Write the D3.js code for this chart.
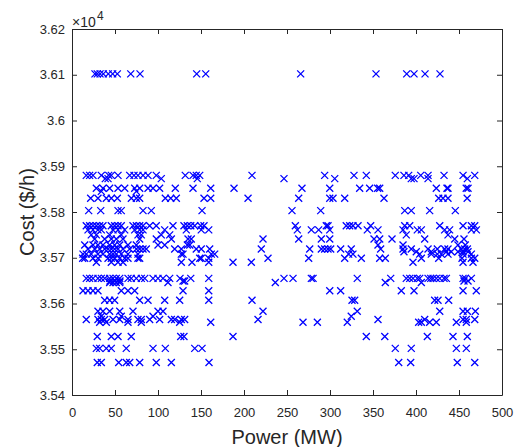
<!DOCTYPE html>
<html>
<head>
<meta charset="utf-8">
<script src="https://cdn.jsdelivr.net/npm/d3@7/dist/d3.min.js"></script>
<style>
    body { margin: 0; background: #fff; }
    text { font-family: "Liberation Sans", Arial, Helvetica, sans-serif; }
</style>
</head>
<body>
<div id="chart-area"></div>
<script>
// Tick values
var xTicks = [0, 50, 100, 150, 200, 250, 300, 350, 400, 450, 500];
var yTicks = [35400, 35500, 35600, 35700, 35800, 35900, 36000, 36100, 36200];

// Cost levels ($/h) and the power values (MW) found at each level
var costLevels = [36102, 35880, 35873, 35852, 35845, 35830, 35803, 35770, 35761, 35750,
    35741, 35728, 35719, 35713, 35708, 35699, 35690, 35655, 35649, 35646, 35628,
    35607, 35583, 35572, 35565, 35559, 35528, 35502, 35471];

var p36102 = [26.7, 29.4, 32.6, 36.4, 42.2, 47.3, 52.7, 68.3, 79.1, 145, 155.5, 265.9, 353.5, 389.2, 397.7, 410.5, 427.9];
var p35880 = [16.6, 20.5, 24.4, 34.1, 42.7, 45.7, 53.5, 67.1, 72.1, 76.7, 82.6, 88.4, 98, 131.7, 140.7, 144.5, 148.5, 209.3, 293.8, 327.9, 342.2, 375.9, 386, 391.5, 405.5, 414, 432.6, 454.7, 468.3];
var p35873 = [38.7, 41.9, 103.8, 145.7, 246.5, 305.5, 394.5, 397.7, 414, 459.7];
var p35852 = [28.3, 36, 43.8, 53.5, 61.3, 72.9, 78.7, 88.4, 94.2, 101.9, 120.1, 140.7, 161.3, 188.4, 267.4, 299.7, 334.5, 346.1, 355.4, 357.8, 423.6, 437.2, 436, 458.4, 460.5];
var p35845 = [34.1, 74.8];
var p35830 = [21.7, 30.2, 39.9, 45.7, 52.7, 69, 74.8, 78.7, 108.5, 114.8, 121.3, 153.5, 161.3, 204.7, 263.6, 299.7, 303.5, 317.1, 362.8, 426.4, 431.4, 437.2, 459.5];
var p35803 = [19.4, 33.4, 53.5, 57.3, 82.6, 92.2, 151.2, 255.8, 289.2, 386.9, 394.5, 415.9, 445.7];
var p35770 = [16.6, 20.5, 24.4, 28.3, 32.2, 36, 45.7, 49.6, 53.5, 57.3, 70.9, 74.8, 78.7, 82.6, 90.3, 98, 117.4, 130.2, 134.1, 138.1, 142.7, 149.6, 153.5, 259.7, 295.7, 297.7, 318.9, 322.9, 326.7, 332.6, 347.3, 386.9, 392.7, 427.6, 454.7, 464.4, 468.3];
var p35761 = [18.6, 24.4, 30.2, 34.1, 47.7, 53.5, 61.3, 72.9, 78.7, 82.6, 107.8, 132.9, 150.3, 159, 262, 278.3, 286.8, 299.7, 343.4, 355.8, 384.9, 401.5, 406.2, 433.3, 439.1, 464.4, 470.2];
var p35750 = [22.4, 28.3, 43.8, 57.3, 76.7, 80.6, 103.8, 113.6, 388.7, 437.2];
var p35741 = [26.4, 38, 45.7, 51.5, 59.3, 78.7, 98, 115.5, 134.9, 138.7, 222.1, 263.6, 289.9, 299.7, 351.2, 357.8, 372.1, 410.1, 445, 455.8];
var p35728 = [14.8, 24.4, 30.2, 36, 43.8, 49.6, 55.5, 65.1, 74.8, 100, 107.8, 134.1, 136.9, 355.8, 384.9, 448.8, 457.3];
var p35719 = [18.6, 26.4, 32.2, 38, 41.9, 45.7, 49.6, 53.5, 59.3, 67.1, 74.8, 78.7, 82.6, 86.4, 119.4, 127.1, 144.5, 150.3, 160.1, 220.1, 276.4, 289.9, 293.8, 297.7, 300.8, 312.4, 324.7, 358.9, 384.9, 394.5, 414, 424.8, 433.3, 437.2, 452.7, 456.6, 459.7];
var p35713 = [386, 400.3, 417.8, 435.2, 441, 448.8, 454.7, 460.5];
var p35708 = [12.8, 16.6, 22.4, 30.2, 36, 43.8, 47.7, 51.5, 57.3, 65.1, 76.7, 127.1, 129.1, 162, 165.9, 321.7, 326.7, 404.3, 417.8, 424.8, 429.4, 437.2, 454.7, 464.4];
var p35699 = [12.4, 14.8, 24.4, 30.2, 41.9, 45.7, 49.6, 55.5, 61.3, 65.1, 76.7, 78.7, 148.5, 150.3, 159, 227.9, 275.2, 317.1, 336.4, 357.8, 364.3, 406.2, 426.4, 453.5, 464.4, 468.3];
var p35690 = [28.3, 45.7, 53.5, 59.3, 127.1, 139.5, 159, 187.2, 208.5, 396.5, 454.7, 466.3];
var p35655 = [16.6, 20.5, 24.4, 30.2, 34.1, 38, 43.8, 47.7, 51.5, 55.5, 65.1, 68.9, 74.8, 80.6, 84.6, 94.2, 100, 105.8, 113.6, 125.6, 138.1, 159, 246.5, 257, 278.3, 280.3, 331.7, 370.6, 388.7, 392.7, 396.5, 401.5, 404.3, 414, 417.1, 419.8, 423.6, 427.6, 432.6, 435.3, 454.7, 457.3, 464.4];
var p35649 = [44.2, 50, 55.8, 129.1, 131, 455.8, 460.5];
var p35646 = [43.8, 47.7, 51.5, 55.5, 111.6, 236.4, 364.3, 406.2];
var p35628 = [12.8, 18.6, 24.4, 30.2, 57.3, 65.1, 72.9, 129.1, 159, 299.7, 312.4, 382.9, 397.7, 454.7, 470.1];
var p35607 = [38, 43.8, 49.6, 78.7, 88.4, 107.8, 125.2, 159, 209.3, 325.6, 328.7, 421.7, 425.6, 438];
var p35583 = [30.2, 36, 43.8, 55.5, 70.9, 100, 105.8, 222.1, 331.7, 427.6, 454.7, 459.7, 469];
var p35572 = [34.1, 57.3, 94.2, 324.7];
var p35565 = [16.6, 30.2, 34.1, 38, 47.7, 55.5, 65.1, 76.7, 80.6, 90.3, 101.9, 115.5, 119.4, 127.1, 131, 216.3, 355.8, 410.1, 454.7, 458.5, 468.3];
var p35559 = [32.2, 39.9, 65.1, 80.6, 125.2, 161.3, 268.6, 285.3, 320.1, 403.1, 406.2, 415.9, 423.6, 446.9, 458.5];
var p35528 = [29.4, 45.7, 53.5, 68.9, 126.4, 130.2, 187.2, 342.2, 363.7, 413.2, 443, 459.7];
var p35502 = [28.3, 32.2, 39.9, 45.7, 63.1, 94.2, 108.5, 142.7, 151.2, 375.9, 394.5, 446.9, 458.5];
var p35471 = [29.4, 34.1, 54.3, 63.1, 67.1, 78.7, 98, 115.5, 159.3, 379.9, 393.8, 448, 468.3];

var powerRows = [p36102, p35880, p35873, p35852, p35845, p35830, p35803, p35770, p35761, p35750,
    p35741, p35728, p35719, p35713, p35708, p35699, p35690, p35655, p35649, p35646, p35628,
    p35607, p35583, p35572, p35565, p35559, p35528, p35502, p35471];

// Flatten into points
var data = [];
costLevels.forEach(function (c, i) {
    powerRows[i].forEach(function (p) {
        data.push({ power: p, cost: c });
    });
});

//Set margins
var margin = { left: 72, right: 20, top: 29, bottom: 52 }
var width = 522 - margin.left - margin.right;
var height = 447 - margin.top - margin.bottom;
var axisColor = "#262626";

var svg = d3.select("#chart-area").append("svg")
    .attr("width", 522)
    .attr("height", 447);

var g = svg.append("g")
    .attr("transform", `translate(${margin.left}, ${margin.top})`);

var x = d3.scaleLinear().domain([0, 500]).range([0, width]);
var y = d3.scaleLinear().domain([35400, 36200]).range([height, 0]);

// Axes, MATLAB style: ticks inside, box on
var xAxisCall = d3.axisBottom(x).tickValues(xTicks).tickSizeInner(-5).tickSizeOuter(0).tickPadding(13);
var yAxisCall = d3.axisLeft(y).tickValues(yTicks).tickSizeInner(-5).tickSizeOuter(0).tickPadding(7)
    .tickFormat(function (d) { return String(+(d / 10000).toFixed(2)); });

var xAxis = g.append("g")
    .attr("transform", `translate(0, ${height})`)
    .call(xAxisCall);
var yAxis = g.append("g").call(yAxisCall);
var xTop = g.append("g").call(d3.axisTop(x).tickValues(xTicks).tickSizeInner(-5).tickSizeOuter(0).tickFormat(""));
var yRight = g.append("g")
    .attr("transform", `translate(${width}, 0)`)
    .call(d3.axisRight(y).tickValues(yTicks).tickSizeInner(-5).tickSizeOuter(0).tickFormat(""));

[xAxis, yAxis, xTop, yRight].forEach(function (a) {
    a.selectAll("path, line").attr("stroke", axisColor);
    a.selectAll("text")
        .attr("fill", axisColor)
        .attr("font-size", "13px")
        .attr("font-family", "Liberation Sans, Arial, sans-serif");
});

// Exponent label (x10^4)
svg.append("text")
    .attr("x", margin.left)
    .attr("y", 26.5)
    .style("font-size", "14px")
    .attr("fill", axisColor)
    .text("\u00d710");
svg.append("text")
    .attr("x", margin.left + 25)
    .attr("y", 20)
    .style("font-size", "12px")
    .attr("fill", axisColor)
    .text("4");

// Axis labels
svg.append("text")
    .attr("x", margin.left + width / 2)
    .attr("y", 444)
    .attr("text-anchor", "middle")
    .attr("font-size", "20px")
    .attr("fill", axisColor)
    .text("Power (MW)");

svg.append("text")
    .attr("transform", `translate(34, ${margin.top + height / 2}) rotate(-90)`)
    .attr("text-anchor", "middle")
    .attr("font-size", "20px")
    .attr("fill", axisColor)
    .text("Cost ($/h)");

// Cross markers
var s = 3.5;
g.selectAll("path.pt")
    .data(data)
    .enter()
    .append("path")
    .attr("class", "pt")
    .attr("d", function (d) {
        var px = x(d.power), py = y(d.cost);
        return `M${px - s},${py - s}L${px + s},${py + s}M${px - s},${py + s}L${px + s},${py - s}`;
    })
    .attr("stroke", "#0000ff")
    .attr("stroke-width", 1.3)
    .attr("fill", "none");
</script>
</body>
</html>
